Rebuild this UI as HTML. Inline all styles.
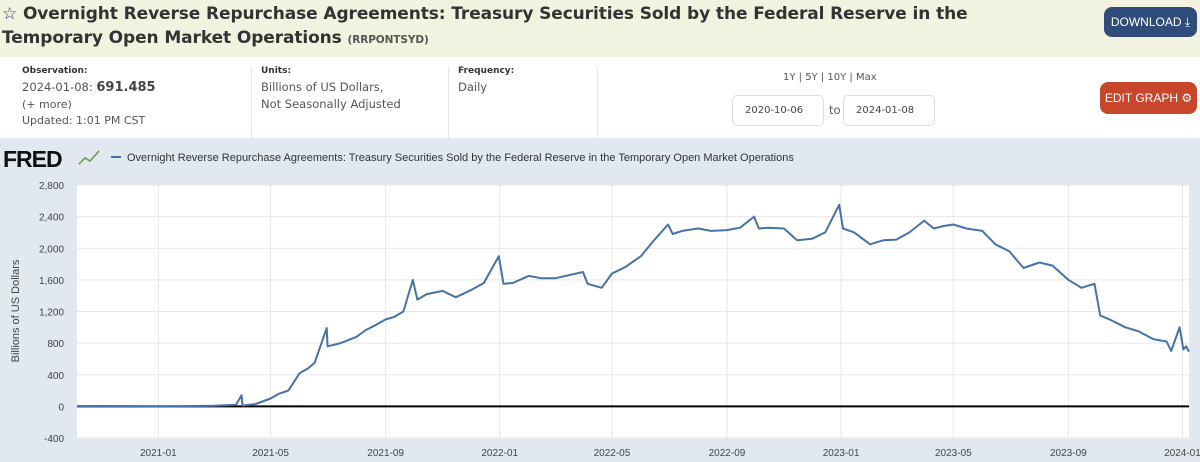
<!DOCTYPE html>
<html><head><meta charset="utf-8">
<style>
*{box-sizing:border-box;margin:0;padding:0}
body{width:1200px;height:462px;overflow:hidden;font-family:"DejaVu Sans","Liberation Sans",sans-serif;background:#fff;position:relative;color:#333}
#hdr{position:absolute;left:0;top:0;width:1200px;height:57px;background:#f2f2e1}
#title{position:absolute;left:2px;top:2px;font-size:17px;font-weight:bold;line-height:24px;color:#333;width:1030px;letter-spacing:-0.1px}
#title small{font-size:10.5px;color:#555;font-weight:bold}
.btn{position:absolute;color:#fff;font-size:12px;border-radius:8px;text-align:center;font-family:"Liberation Sans",sans-serif}
#info{position:absolute;top:57px;left:0;width:1200px;height:81px;background:#fff}
.lab{position:absolute;font-size:9px;font-weight:bold;color:#333}
.val{position:absolute;font-size:11.5px;color:#555;line-height:17px}
.sep{position:absolute;top:67px;width:1px;height:71px;background:#e6e6e6}
.dt{position:absolute;top:95px;width:92px;height:31px;border:1px solid #ddd;border-radius:5px;font-size:10px;color:#444;padding:9px 0 0 12px}
#chart{position:absolute;left:0;top:138px;width:1200px;height:324px;background:#e1e8f0}
</style></head><body>
<div id="hdr">
<div id="title"><span style="font-weight:normal;color:#335">☆</span> Overnight Reverse Repurchase Agreements: Treasury Securities Sold by the Federal Reserve in the Temporary Open Market Operations <small>(RRPONTSYD)</small></div>
<div class="btn" style="left:1104px;top:7px;width:93px;height:30px;background:#2f4c7a;padding-top:8px">DOWNLOAD ⤓</div>
</div>
<div id="info"></div>
<div class="lab" style="left:22px;top:66px">Observation:</div>
<div class="val" style="left:22px;top:79px">2024-01-08: <b style="font-size:13px;color:#444">691.485</b></div>
<div class="val" style="left:22px;top:96px;font-size:11px">(+ more)</div>
<div class="val" style="left:22px;top:112px;font-size:11px">Updated: 1:01 PM CST</div>
<div class="sep" style="left:251px"></div>
<div class="lab" style="left:261px;top:66px">Units:</div>
<div class="val" style="left:261px;top:79px">Billions of US Dollars,<br>Not Seasonally Adjusted</div>
<div class="sep" style="left:448px"></div>
<div class="lab" style="left:458px;top:66px">Frequency:</div>
<div class="val" style="left:458px;top:79px">Daily</div>
<div class="sep" style="left:597px"></div>
<div class="val" style="left:783px;top:69px;font-size:10px">1Y | 5Y | 10Y | Max</div>
<div class="dt" style="left:732px">2020-10-06</div>
<div class="val" style="left:829px;top:102px">to</div>
<div class="dt" style="left:843px">2024-01-08</div>
<div class="btn" style="left:1100px;top:82px;width:97px;height:32px;background:#c8462c;padding-top:9px">EDIT GRAPH ⚙</div>
<div id="chart">
<svg id="svg" width="1200" height="324" viewBox="0 138 1200 324" style="position:absolute;left:0;top:0"></svg>
</div>
<script>
const dates=["2020-10-06","2020-11-01","2020-12-01","2021-01-01","2021-02-01","2021-03-01","2021-03-25","2021-03-31","2021-04-01","2021-04-15","2021-05-01","2021-05-10","2021-05-20","2021-06-01","2021-06-10","2021-06-17","2021-06-30","2021-07-01","2021-07-15","2021-08-01","2021-08-10","2021-08-20","2021-09-01","2021-09-10","2021-09-20","2021-09-30","2021-10-05","2021-10-15","2021-11-01","2021-11-15","2021-12-01","2021-12-15","2021-12-31","2022-01-05","2022-01-15","2022-02-01","2022-02-15","2022-03-01","2022-03-31","2022-04-05","2022-04-20","2022-05-01","2022-05-15","2022-06-01","2022-06-15","2022-06-30","2022-07-05","2022-07-15","2022-08-01","2022-08-15","2022-09-01","2022-09-15","2022-09-30","2022-10-05","2022-10-15","2022-11-01","2022-11-15","2022-12-01","2022-12-15","2022-12-30","2023-01-03","2023-01-15","2023-02-01","2023-02-15","2023-03-01","2023-03-15","2023-03-31","2023-04-10","2023-04-20","2023-05-01","2023-05-15","2023-06-01","2023-06-15","2023-06-30","2023-07-15","2023-08-01","2023-08-15","2023-09-01","2023-09-15","2023-09-29","2023-10-05","2023-10-15","2023-11-01","2023-11-15","2023-12-01","2023-12-15","2023-12-20","2023-12-29","2024-01-02","2024-01-05","2024-01-08"];
const values=[3,5,4,2,3,8,20,140,10,30,100,160,200,420,480,550,990,760,800,880,960,1020,1100,1130,1200,1600,1350,1420,1460,1380,1470,1560,1900,1550,1560,1650,1620,1620,1700,1550,1500,1680,1760,1900,2100,2300,2180,2220,2250,2220,2230,2260,2400,2250,2260,2250,2100,2120,2200,2550,2250,2200,2050,2100,2110,2200,2350,2250,2280,2300,2250,2220,2050,1960,1750,1820,1780,1600,1500,1550,1150,1100,1000,950,850,820,700,1000,720,760,691];
const yTicks=[-400,0,400,800,1200,1600,2000,2400,2800];
const xTicks=["2021-01","2021-05","2021-09","2022-01","2022-05","2022-09","2023-01","2023-05","2023-09","2024-01"];
const NS='http://www.w3.org/2000/svg',svg=document.getElementById('svg');
const L=77,R=1189,T=185,B=438,t0=Date.parse("2020-10-06"),t1=Date.parse("2024-01-08");
const X=d=>L+(Date.parse(d)-t0)/(t1-t0)*(R-L);
const Y=v=>B-(v+400)/3200*(B-T);
function mk(tag,a){const e=document.createElementNS(NS,tag);for(const k in a)e.setAttribute(k,a[k]);svg.appendChild(e);return e;}
const bg=mk('rect',{x:L,y:T,width:R-L,height:B-T,fill:'#fff'});


yTicks.forEach(v=>{
 const g=mk('line',{x1:L,x2:R,y1:Y(v),y2:Y(v),stroke:'#e8e8e8','stroke-width':1});
 
 
 const t=mk('text',{x:64,y:Y(v)+4,'text-anchor':'end','font-size':10,fill:'#444','font-family':'Liberation Sans, sans-serif'});
 t.textContent=v.toLocaleString('en-US');
 
 
});
xTicks.forEach(s=>{
 const x=X(s+"-01");
 const g=mk('line',{x1:x,x2:x,y1:T,y2:B+4,stroke:'#e6e6e6'});
 
 
 const t=mk('text',{x:x,y:B+18,'text-anchor':'middle','font-size':10,fill:'#444','font-family':'Liberation Sans, sans-serif'});
 t.textContent=s;
 
 
});
const z=mk('line',{x1:L,x2:R,y1:Y(0),y2:Y(0),stroke:'#000','stroke-width':2});


const p=mk('polyline',{points:dates.map((d,i)=>X(d).toFixed(1)+','+Y(values[i]).toFixed(1)).join(' '),fill:'none',stroke:'#4572a7','stroke-width':2,'stroke-linejoin':'round'});


const yt=mk('text',{x:0,y:0,'font-size':11,fill:'#444','text-anchor':'middle',transform:'translate(19,311) rotate(-90)','font-family':'Liberation Sans, sans-serif'});
yt.textContent='Billions of US Dollars';


const logo=mk('text',{x:3,y:167,'font-size':23,'font-weight':'bold',fill:'#111','font-family':'Liberation Sans, sans-serif','letter-spacing':'-1'});
logo.textContent='FRED';


const ic=mk('polyline',{points:'79,164 85,158 90,161 99,151',fill:'none',stroke:'#6a9a4a','stroke-width':1.5});


const ll=mk('line',{x1:111,x2:121,y1:157,y2:157,stroke:'#4572a7','stroke-width':2});


const lt=mk('text',{x:127,y:161,'font-size':11,fill:'#333','font-family':'Liberation Sans, sans-serif'});
lt.textContent='Overnight Reverse Repurchase Agreements: Treasury Securities Sold by the Federal Reserve in the Temporary Open Market Operations';


</script>
</body></html>
